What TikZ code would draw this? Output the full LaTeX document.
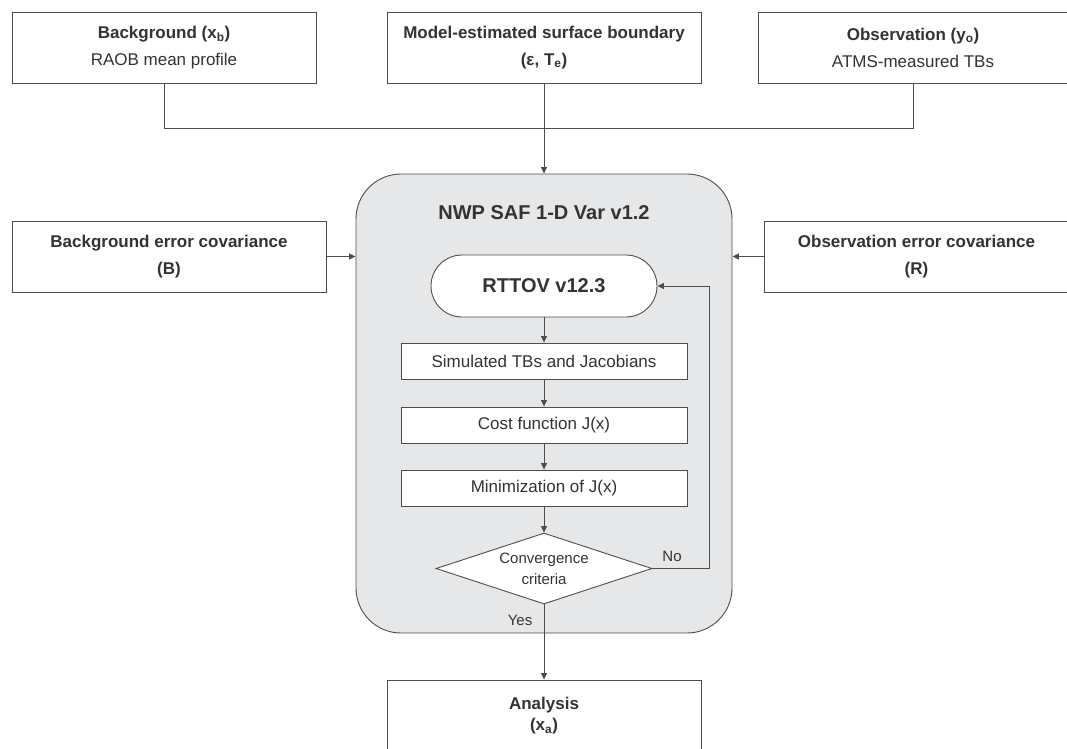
\documentclass[tikz,border=0pt]{standalone}
\usepackage{fontspec}
\setmainfont{Liberation Sans}
\usetikzlibrary{arrows.meta,shapes.geometric,shapes.misc}
\definecolor{txt}{HTML}{333333}
\definecolor{ln}{HTML}{4D4D4D}
\definecolor{panel}{HTML}{E6E7E8}
\begin{document}
\begin{tikzpicture}[x=1pt,y=-1pt,
  every node/.style={text=txt, inner sep=0pt, align=center, font=\fontsize{17}{27}\selectfont},
  box/.style={draw=ln, line width=0.9pt, fill=white},
  conn/.style={draw=ln, line width=0.9pt},
  arr/.style={conn, -{Triangle[length=6.5pt,width=6pt]}},
  lbl/.style={font=\fontsize{15}{18}\selectfont}]
\useasboundingbox (0,0) rectangle (1067,748);

% top inputs
\node[box, minimum width=304, minimum height=71] (bg) at (164,47.5)
  {\bfseries Background (x\textsubscript{b})\\ RAOB mean profile};
\node[box, minimum width=314, minimum height=71] (surf) at (544,47.5)
  {\bfseries Model-estimated surface boundary\\ \bfseries (ε, T\textsubscript{e})};
\node[box, minimum width=310, minimum height=71] (obs) at (913,47.5)
  {\bfseries Observation (y\textsubscript{o})\\ ATMS-measured TBs};

% side inputs
\node[box, minimum width=314, minimum height=71] (bcov) at (169,256.5)
  {\bfseries Background error covariance\\ \bfseries (B)};
\node[box, minimum width=305, minimum height=71] (rcov) at (916.5,256.5)
  {\bfseries Observation error covariance\\ \bfseries (R)};

% main panel
\node[draw=ln, line width=0.9pt, fill=panel, rounded corners=45pt,
  minimum width=376, minimum height=459] (panel) at (544,403.5) {};
\node[font=\fontsize{20}{24}\selectfont\bfseries] (title) at (544,213) {NWP SAF 1-D Var v1.2};

\node[box, rounded rectangle, minimum width=226, minimum height=62,
  font=\fontsize{20}{24}\selectfont\bfseries] (rt) at (544,286) {RTTOV v12.3};
\node[box, minimum width=286, minimum height=36] (sim) at (544,361) {Simulated TBs and Jacobians};
\node[box, minimum width=286, minimum height=36] (cost) at (544,425) {Cost function J(x)};
\node[box, minimum width=286, minimum height=36] (mini) at (544,488) {Minimization of J(x)};
\node[box, diamond, aspect=3, minimum width=216, minimum height=71,
  font=\fontsize{15}{21}\selectfont] (conv) at (544,568.5) {Convergence\\ criteria};

% output
\node[box, minimum width=314, minimum height=71] (ana) at (544,715.5)
  {\bfseries Analysis\\[-6pt] \bfseries (x\textsubscript{a})};

% connectors
\draw[conn] (bg.south) -- ++(0,45) -| (obs.south);
\draw[arr] (surf.south) -- (panel.north);
\draw[arr] (bcov.east) -- (panel.west |- bcov.east);
\draw[arr] (rcov.west) -- (panel.east |- rcov.west);
\draw[arr] (rt.south) -- (sim.north);
\draw[arr] (sim.south) -- (cost.north);
\draw[arr] (cost.south) -- (mini.north);
\draw[arr] (mini.south) -- (conv.north);
\draw[arr] (conv.east) -- ++(57,0) |- (rt.east);
\draw[arr] (conv.south) -- (ana.north);

\node[lbl] (no) at (672,556) {No};
\node[lbl] (yes) at (520,620) {Yes};
\end{tikzpicture}
\end{document}
